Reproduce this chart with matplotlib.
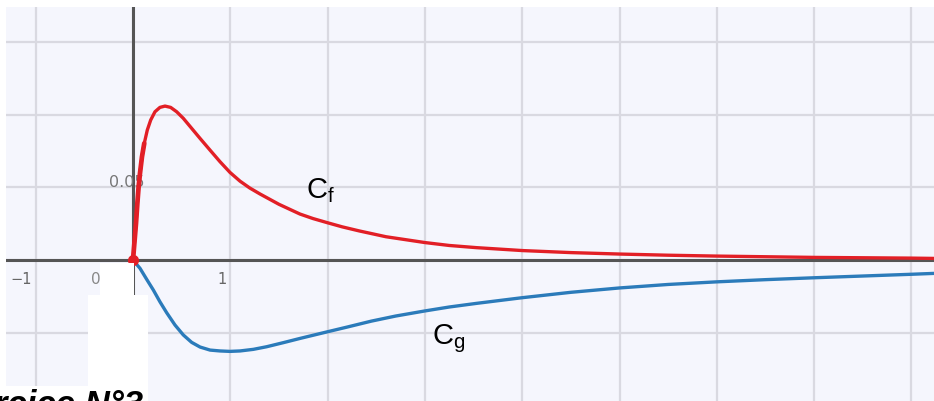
"""
Cf / Cg curves on a Desmos-like grid, saved to out.png.
"""

import matplotlib
matplotlib.use("Agg")
import matplotlib.pyplot as plt
from matplotlib.patches import Polygon

# Cf (red)
CF_X = [0, 0.017, 0.031, 0.045, 0.058, 0.072, 0.0925, 0.116, 0.147, 0.182,
        0.226, 0.277, 0.329, 0.387, 0.449, 0.517, 0.603, 0.689, 0.791, 0.894,
        0.997, 1.10, 1.20, 1.305, 1.5, 1.716, 1.85, 2.0, 2.15, 2.325, 2.6, 3.0,
        3.25, 3.53, 4.0, 4.5, 5.0, 5.5, 6.0, 7.0, 8.0, 8.23]
CF_Y = [0, 0.0137, 0.0252, 0.039, 0.0504, 0.0596, 0.071, 0.0802, 0.0893,
        0.0962, 0.1019, 0.1049, 0.1058, 0.1049, 0.1019, 0.0974, 0.0905, 0.0836,
        0.0756, 0.0676, 0.0602, 0.0542, 0.0495, 0.0454, 0.0383, 0.0316, 0.0285,
        0.0256, 0.0228, 0.0200, 0.0160, 0.0120, 0.0100, 0.0085, 0.0065, 0.0051,
        0.0041, 0.0033, 0.0027, 0.0018, 0.0013, 0.0011]

# Cg (blue)
CG_X = [0, 0.072, 0.141, 0.209, 0.277, 0.346, 0.432, 0.517, 0.603, 0.689,
        0.792, 0.894, 0.997, 1.10, 1.237, 1.374, 1.545, 1.716, 2.0, 2.2, 2.45,
        2.7, 3.0, 3.25, 3.53, 4.0, 4.5, 5.0, 5.5, 6.0, 6.5, 7.0, 7.5, 8.0, 8.23]
CG_Y = [0, -0.0057, -0.0133, -0.0206, -0.0287, -0.0362, -0.0447, -0.0515,
        -0.0566, -0.0598, -0.0619, -0.0625, -0.0628, -0.0625, -0.0614, -0.0596,
        -0.0568, -0.0539, -0.0493, -0.0461, -0.0420, -0.0385, -0.0350, -0.0323,
        -0.0298, -0.0259, -0.0222, -0.0192, -0.0168, -0.0150, -0.0135, -0.0122,
        -0.0110, -0.0098, -0.0092]

X_GRID = [-1, 0, 1, 2, 3, 4, 5, 6, 7, 8]
Y_GRID = [-0.05, 0, 0.05, 0.1, 0.15]
X_LABELS = {-1: "\u22121", 1: "1"}
Y_LABELS = {0.05: "0.05"}

W, H = 934, 401
BG = "#f5f6fd"
RED = "#e21f26"
BLUE = "#2b7bba"

# white patch hiding part of the picture below the origin (pixels, top-left origin)
MASK_PX = [(100, 263), (134, 263), (134, 295), (148, 295), (148, 401),
           (88, 401), (88, 295), (100, 295)]

plt.rcParams["font.family"] = ["Liberation Sans", "DejaVu Sans"]
plt.rcParams["mathtext.fontset"] = "custom"
plt.rcParams["mathtext.rm"] = "Liberation Sans"
plt.rcParams["mathtext.it"] = "Liberation Sans"

fig = plt.figure(figsize=(W / 100, H / 100), dpi=100)
fig.patch.set_facecolor("white")
ax = fig.add_axes([6 / W, 0, (W - 6) / W, (H - 7) / H])
ax.set_facecolor(BG)
ax.set_xlim(-1.305, 8.232)
ax.set_ylim(-0.0969, 0.1739)
for s in ax.spines.values():
    s.set_visible(False)

# grid
ax.set_xticks(X_GRID)
ax.set_yticks(Y_GRID)
ax.tick_params(length=0, labelbottom=False, labelleft=False)
ax.set_axisbelow(True)
ax.grid(color="#d9d9e1", lw=1.6)

# axes lines
ax.axhline(0, color="#555555", lw=2.2, zorder=1)
ax.axvline(0, color="#555555", lw=2.2, zorder=1)

# tick labels
for x, txt in X_LABELS.items():
    ax.text(x - 0.04, -0.0085, txt, ha="right", va="top", fontsize=10.5,
            color="#666666", family="DejaVu Sans")
ax.text(-0.33, -0.0085, "0", ha="right", va="top", fontsize=11,
        color="#888888", family="DejaVu Sans")
for y, txt in Y_LABELS.items():
    ax.text(0.12, y, txt, ha="right", va="baseline", fontsize=11.5,
            color="#777777", family="DejaVu Sans")

# curves
ax.plot(CF_X, CF_Y, color=RED, lw=2.4, solid_joinstyle="round",
        solid_capstyle="round", zorder=3)
ax.plot(CF_X[:8], CF_Y[:8], color=RED, lw=3.4, solid_joinstyle="round",
        solid_capstyle="round", zorder=3)
ax.plot(CG_X, CG_Y, color=BLUE, lw=2.4, solid_joinstyle="round",
        solid_capstyle="round", zorder=3)
ax.plot([CF_X[0]], [CF_Y[0]], "o", color=RED, ms=7, zorder=4)

# curve names
ax.text(1.78, 0.0425, r"$\mathrm{C_f}$", fontsize=21, color="black", va="baseline")
ax.text(3.07, -0.0582, r"$\mathrm{C_g}$", fontsize=21, color="black", va="baseline")

# white mask + cut-off heading at the bottom
mask = Polygon([(x / W, 1 - y / H) for x, y in MASK_PX], closed=True,
               transform=fig.transFigure, facecolor="white", edgecolor="none",
               zorder=5)
fig.patches.append(mask)
fig.text(143 / W, -0.035, "Exercice N°3", ha="right", va="baseline",
         fontsize=25, fontweight="bold", fontstyle="italic", color="black",
         bbox=dict(facecolor="white", edgecolor="none", pad=2), zorder=6)

fig.savefig("out.png", dpi=100, facecolor=fig.get_facecolor())
